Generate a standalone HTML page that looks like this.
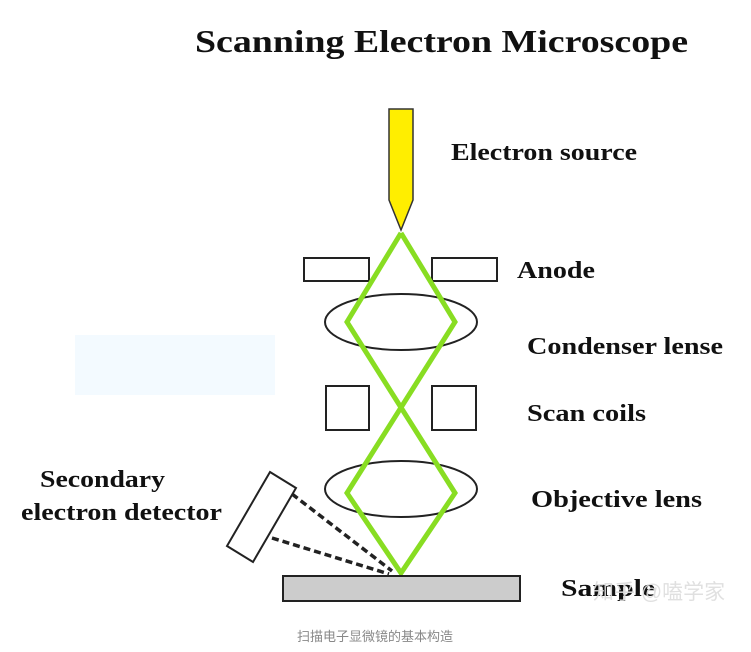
<!DOCTYPE html>
<html><head><meta charset="utf-8"><style>
html,body{margin:0;padding:0;background:#fff;}
svg{display:block;}
.l{font-family:"Liberation Serif",serif;font-weight:bold;fill:#111;}
</style></head><body>
<svg width="751" height="652" viewBox="0 0 751 652">
<rect x="75" y="335" width="200" height="60" fill="#f3faff"/>
<text class="l" x="195" y="52" font-size="32" textLength="493" lengthAdjust="spacingAndGlyphs">Scanning Electron Microscope</text>
<polygon points="389,109 413,109 413,200 401,230 389,200" fill="#ffee00" stroke="#333" stroke-width="1.5"/>
<rect x="304" y="258" width="65" height="23" fill="#fff" stroke="#222" stroke-width="2"/>
<rect x="432" y="258" width="65" height="23" fill="#fff" stroke="#222" stroke-width="2"/>
<ellipse cx="401" cy="322" rx="76" ry="28" fill="none" stroke="#222" stroke-width="2"/>
<rect x="326" y="386" width="43" height="44" fill="#fff" stroke="#222" stroke-width="2"/>
<rect x="432" y="386" width="44" height="44" fill="#fff" stroke="#222" stroke-width="2"/>
<ellipse cx="401" cy="489" rx="76" ry="28" fill="none" stroke="#222" stroke-width="2"/>
<polyline points="401,233 347,322 455,493 401,573 347,493 455,322 401,233" fill="none" stroke="#88dd22" stroke-width="5" stroke-linejoin="miter"/>
<rect x="283" y="576" width="237" height="25" fill="#cccccc" stroke="#222" stroke-width="2"/>
<polygon points="270,472 296,488 253,562 227,546" fill="#fff" stroke="#222" stroke-width="2"/>
<line x1="292" y1="494" x2="392" y2="571" stroke="#222" stroke-width="3.5" stroke-dasharray="7,4"/>
<line x1="272" y1="538" x2="389" y2="574" stroke="#222" stroke-width="3.5" stroke-dasharray="7,4"/>
<text class="l" x="451" y="160" font-size="24" textLength="186" lengthAdjust="spacingAndGlyphs">Electron source</text>
<text class="l" x="517" y="278" font-size="24" textLength="78" lengthAdjust="spacingAndGlyphs">Anode</text>
<text class="l" x="527" y="354" font-size="24" textLength="196" lengthAdjust="spacingAndGlyphs">Condenser lense</text>
<text class="l" x="527" y="421" font-size="24" textLength="119" lengthAdjust="spacingAndGlyphs">Scan coils</text>
<text class="l" x="531" y="507" font-size="24" textLength="171" lengthAdjust="spacingAndGlyphs">Objective lens</text>
<text class="l" x="561" y="596" font-size="24" textLength="94" lengthAdjust="spacingAndGlyphs">Sample</text>
<text class="l" x="40" y="487" font-size="24" textLength="125" lengthAdjust="spacingAndGlyphs">Secondary</text>
<text class="l" x="21" y="520" font-size="24" textLength="201" lengthAdjust="spacingAndGlyphs">electron detector</text>
<text x="593" y="599" font-size="21" fill="#ddd" font-family="'Liberation Sans','Noto Sans CJK SC',sans-serif" opacity="0.9">知乎 @嗑学家</text>
<text x="375" y="641" font-size="13" fill="#888" text-anchor="middle" font-family="'Liberation Sans','Noto Sans CJK SC',sans-serif">扫描电子显微镜的基本构造</text>
</svg>
</body></html>
